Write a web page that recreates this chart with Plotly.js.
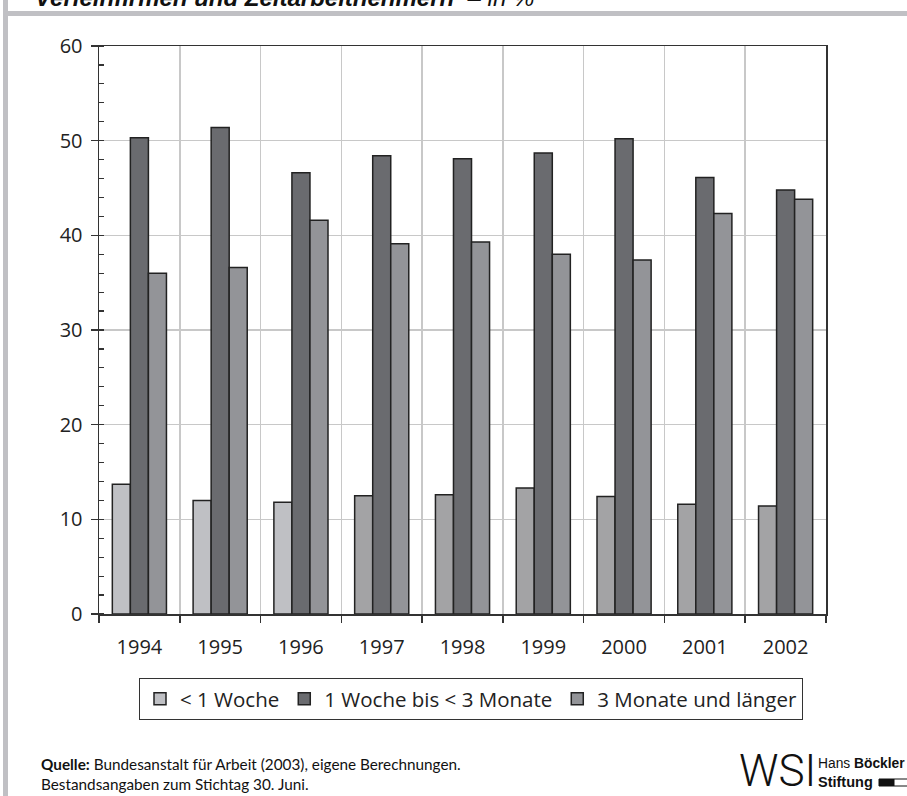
<!DOCTYPE html>
<html>
<head>
<meta charset="utf-8">
<script src="https://cdn.plot.ly/plotly-3.0.1.min.js"></script>
<style>
  html, body { margin: 0; padding: 0; background: #fff; }
  #chart { width: 907px; height: 796px; }
</style>
</head>
<body>
<div id="chart"></div>
<script>
// ---- data ----
const years = ['1994', '1995', '1996', '1997', '1998', '1999', '2000', '2001', '2002'];
const seriesNames = ['< 1 Woche', '1 Woche bis < 3 Monate', '3 Monate und länger'];
const unterEinerWoche = [13.7, 12.0, 11.8, 12.5, 12.6, 13.3, 12.4, 11.6, 11.4];
const eineWocheBisDreiMonate = [50.3, 51.4, 46.6, 48.4, 48.1, 48.7, 50.2, 46.1, 44.8];
const dreiMonateUndLaenger = [36.0, 36.6, 41.6, 39.1, 39.3, 38.0, 37.4, 42.3, 43.8];
const yTicks = [0, 10, 20, 30, 40, 50, 60];

// ---- layout geometry (pixels) ----
const W = 907, H = 796;
const M = { l: 99, r: 81, t: 46, b: 182 };
const pw = W - M.l - M.r, ph = H - M.t - M.b;
const px = X => (X - M.l) / pw;
const py = Y => (H - M.b - Y) / ph;

const edge = { color: '#222', width: 1.5 };
const lightA = '#bfc0c4', lightB = '#a3a3a5';
const s1Colors = years.map(y => (+y <= 1996 ? lightA : lightB));

const traces = [
  { type: 'bar', name: seriesNames[0], x: years, y: unterEinerWoche,
    marker: { color: s1Colors, line: edge } },
  { type: 'bar', name: seriesNames[1], x: years, y: eineWocheBisDreiMonate,
    marker: { color: '#6a6b6f', line: edge } },
  { type: 'bar', name: seriesNames[2], x: years, y: dreiMonateUndLaenger,
    marker: { color: '#939498', line: edge } }
];

const font = 'Open Sans, Lato, DejaVu Sans, sans-serif';

const layout = {
  width: W, height: H,
  margin: M,
  paper_bgcolor: '#fff', plot_bgcolor: '#fff',
  barmode: 'group', bargap: 0.33, bargroupgap: 0,
  showlegend: true,
  font: { family: font, color: '#222', size: 20 },
  xaxis: {
    type: 'category', tickson: 'boundaries',
    ticks: 'outside', ticklen: 7, tickwidth: 1.5, tickcolor: '#333',
    showgrid: true, gridcolor: '#c8c8c8', gridwidth: 1.5,
    showline: true, linecolor: '#333', linewidth: 1.5, mirror: true,
    ticklabelstandoff: 14,
    tickfont: { family: font, size: 20, color: '#222' }
  },
  yaxis: {
    range: [0, 60], tickvals: yTicks, ticktext: yTicks.map(String),
    ticks: 'outside', ticklen: 7, tickwidth: 1.5, tickcolor: '#333',
    minor: { dtick: 2, ticks: 'inside', ticklen: 5, tickwidth: 1.2, tickcolor: '#333', showgrid: false },
    showgrid: true, gridcolor: '#c8c8c8', gridwidth: 1.5,
    showline: true, linecolor: '#333', linewidth: 1.5, mirror: true,
    zeroline: false, ticklabelstandoff: 4,
    tickfont: { family: font, size: 20, color: '#222' }
  },
  legend: {
    orientation: 'h', x: px(471), xanchor: 'center', y: py(678), yanchor: 'top',
    bordercolor: '#333', borderwidth: 1, bgcolor: '#fff',
    itemwidth: 30, traceorder: 'normal',
    font: { family: font, size: 20.5, color: '#222' }
  },
  shapes: [
    { type: 'rect', xref: 'paper', yref: 'paper', x0: px(3), x1: px(8), y0: py(H + 2), y1: py(-2),
      fillcolor: '#c0c0c4', line: { width: 0 }, layer: 'above' },
    { type: 'rect', xref: 'paper', yref: 'paper', x0: px(8), x1: px(W + 2), y0: py(16), y1: py(11),
      fillcolor: '#c0c0c4', line: { width: 0 }, layer: 'above' },
    { type: 'rect', xref: 'paper', yref: 'paper', x0: px(879), x1: px(894), y0: py(786), y1: py(779),
      fillcolor: '#111', line: { color: '#111', width: 1 } },
    { type: 'rect', xref: 'paper', yref: 'paper', x0: px(894), x1: px(908), y0: py(786), y1: py(779),
      fillcolor: '#fff', line: { color: '#111', width: 1 } }
  ],
  annotations: [
    { xref: 'paper', yref: 'paper', x: px(33), y: py(13), xanchor: 'left', yanchor: 'bottom',
      showarrow: false, align: 'left',
      text: '<b><i>Verleihfirmen und Zeitarbeitnehmern</i></b>  <i>– in %</i>',
      font: { family: 'Liberation Sans, Arial, sans-serif', size: 24, color: '#111' } },
    { xref: 'paper', yref: 'paper', x: px(39), y: py(774), xanchor: 'left', yanchor: 'middle',
      showarrow: false, align: 'left',
      text: '<b>Quelle:</b> Bundesanstalt für Arbeit (2003), eigene Berechnungen.<br>Bestandsangaben zum Stichtag 30. Juni.',
      font: { family: 'Lato, Open Sans, sans-serif', size: 15.3, color: '#111' } },
    { xref: 'paper', yref: 'paper', x: px(737), y: py(771), xanchor: 'left', yanchor: 'middle',
      showarrow: false, text: 'WSI',
      font: { family: 'Roboto, Liberation Sans, sans-serif', size: 44, weight: 300, color: '#111' } },
    { xref: 'paper', yref: 'paper', x: px(816), y: py(763), xanchor: 'left', yanchor: 'middle',
      showarrow: false, text: 'Hans <b>Böckler</b>',
      font: { family: 'Liberation Sans, Arial, sans-serif', size: 13.8, color: '#111' } },
    { xref: 'paper', yref: 'paper', x: px(816), y: py(782), xanchor: 'left', yanchor: 'middle',
      showarrow: false, text: '<b>Stiftung</b>',
      font: { family: 'Liberation Sans, Arial, sans-serif', size: 14.5, color: '#111' } }
  ]
};

Plotly.newPlot('chart', traces, layout, { displayModeBar: false, staticPlot: true });
</script>
</body>
</html>
